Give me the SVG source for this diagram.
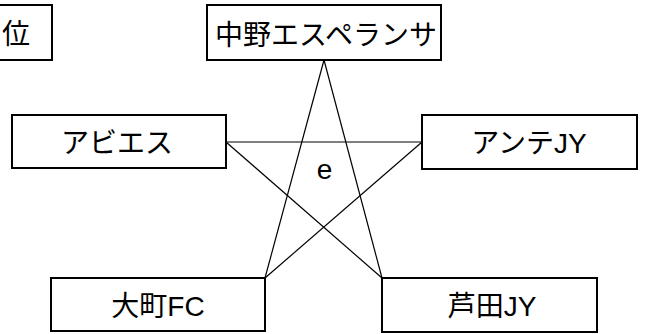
<svg xmlns="http://www.w3.org/2000/svg" width="645" height="334" viewBox="0 0 645 334">
<style>
.box{fill:#fff;stroke:#000;stroke-width:2}
.t{font-family:"Liberation Sans","Noto Sans CJK JP",sans-serif;font-size:28px;fill:#000;text-anchor:middle}
.ln{stroke:#000;stroke-width:1.2;fill:none}
</style>
<rect width="645" height="334" fill="#fff"/>
<g id="connectors">
<line class="ln" x1="324" y1="60" x2="265" y2="278"/>
<line class="ln" x1="324" y1="60" x2="382" y2="278"/>
<line class="ln" x1="226" y1="142" x2="422" y2="142"/>
<line class="ln" x1="226" y1="142" x2="382" y2="278"/>
<line class="ln" x1="422" y1="142" x2="265" y2="278"/>
</g>
<g id="n-rank"><rect class="box" x="-5" y="5" width="57" height="55"/><text class="t" x="16" y="44">位</text></g>
<g id="n-nakano"><rect class="box" x="207" y="5" width="234" height="55"/><text class="t" x="326" y="45">中野エスペランサ</text></g>
<g id="n-abies"><rect class="box" x="12" y="115" width="214" height="53"/><text class="t" x="117" y="153">アビエス</text></g>
<g id="n-ante"><rect class="box" x="422" y="115" width="215" height="54"/><text class="t" x="529" y="153">アンテJY</text></g>
<g id="n-omachi"><rect class="box" x="51" y="278" width="214" height="53"/><text class="t" x="158" y="316">大町FC</text></g>
<g id="n-serida"><rect class="box" x="382" y="278" width="215" height="54"/><text class="t" x="492" y="316">芦田JY</text></g>
<text class="t" x="324.5" y="179">e</text>
</svg>
